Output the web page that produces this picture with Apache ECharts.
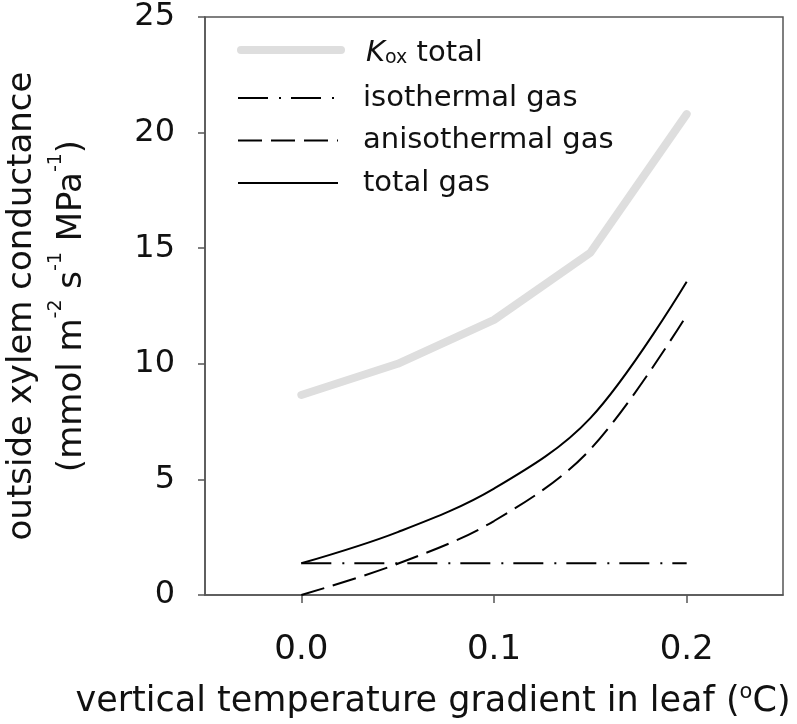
<!DOCTYPE html>
<html>
<head>
<meta charset="utf-8">
<script src="https://cdn.jsdelivr.net/npm/echarts@6/dist/echarts.min.js"></script>
<style>
html,body{margin:0;padding:0;background:#fff;}
#chart{width:797px;height:724px;}
</style>
</head>
<body>
<div id="chart"></div>
<script>
// x positions (vertical temperature gradient, °C)
const gradients = [0, 0.05, 0.1, 0.15, 0.2];
// series values (mmol m-2 s-1 MPa-1)
const koxTotal = [8.65, 10.0, 11.9, 14.8, 20.8];
const isothermalGas = [1.37, 1.37, 1.37, 1.37, 1.37];
const anisothermalGas = [0, 1.35, 3.2, 6.3, 12.1];
const totalGas = [1.37, 2.72, 4.6, 7.65, 13.55];
// tick labels
const xTicks = [0, 0.1, 0.2];
const yTicks = [0, 5, 10, 15, 20, 25];

const seriesNames = ['Kox total', 'isothermal gas', 'anisothermal gas', 'total gas'];

function pairs(ys) { return gradients.map((x, i) => [x, ys[i]]); }

const FONT = 'DejaVu Sans';
const AX = '#555';

const chart = echarts.init(document.getElementById('chart'), null, {renderer: 'canvas'});
chart.setOption({
  animation: false,
  backgroundColor: '#fff',
  textStyle: {fontFamily: FONT, color: '#111'},
  grid: {left: 205, right: 14, top: 17, bottom: 129, show: true, borderColor: AX, borderWidth: 1.5, outerBoundsMode: 'none'},
  legend: [
    {
      data: [seriesNames[0]], orient: 'vertical', left: 237, top: 32, padding: 0,
      itemWidth: 100, itemHeight: 30, selectedMode: false,
      lineStyle: {width: 'inherit'},
      itemStyle: {color: 'rgba(0,0,0,0)', borderWidth: 0},
      formatter: () => '{k|K}{sub|ox} total',
      textStyle: {fontFamily: FONT, fontSize: 29, color: '#111', lineHeight: 30, padding: [6, 0, 0, 20],
        rich: {
          k: {fontFamily: FONT, fontSize: 29, fontStyle: 'italic', lineHeight: 30, color: '#111'},
          sub: {fontFamily: FONT, fontSize: 19, lineHeight: 10, verticalAlign: 'bottom', color: '#111'}
        }}
    },
    {
      data: seriesNames.slice(1), orient: 'vertical', left: 237, top: 80, padding: 0,
      itemWidth: 100, itemHeight: 30, itemGap: 6.5, selectedMode: false,
      lineStyle: {width: 'inherit'},
      itemStyle: {color: 'rgba(0,0,0,0)', borderWidth: 0},
      textStyle: {fontFamily: FONT, fontSize: 29, color: '#111', lineHeight: 30, padding: [6, 0, 0, 20]}
    }
  ],
  xAxis: {
    type: 'value', min: -0.05, max: 0.25,
    name: 'vertical temperature gradient in leaf ({sup|o}C)',
    nameLocation: 'middle', nameGap: 87,
    nameTextStyle: {fontFamily: FONT, fontSize: 35, color: '#111', lineHeight: 40, padding: [0, 122, 0, 0],
      rich: {sup: {fontFamily: FONT, fontSize: 21, lineHeight: 20, verticalAlign: 'top', color: '#111'}}},
    axisLine: {show: true, onZero: false, lineStyle: {color: AX, width: 1.5}},
    axisTick: {show: true, length: 8, lineStyle: {color: AX, width: 1.5}, customValues: xTicks},
    axisLabel: {fontFamily: FONT, fontSize: 34, color: '#111', margin: 38, lineHeight: 34,
      customValues: xTicks, formatter: v => Number(v).toFixed(1)},
    splitLine: {show: false}
  },
  yAxis: {
    type: 'value', min: yTicks[0], max: yTicks[yTicks.length - 1], interval: 5,
    name: 'outside xylem conductance\n(mmol m{sup|-2} s{sup|-1} MPa{sup|-1})',
    nameLocation: 'middle', nameRotate: 90, nameGap: 108,
    nameTextStyle: {fontFamily: FONT, fontSize: 34, color: '#111', lineHeight: 50,
      rich: {sup: {fontFamily: FONT, fontSize: 19, lineHeight: 20, verticalAlign: 'top', color: '#111'}}},
    axisLine: {show: true, onZero: false, lineStyle: {color: AX, width: 1.5}},
    axisTick: {show: true, length: 7, lineStyle: {color: AX, width: 1.5}},
    axisLabel: {fontFamily: FONT, fontSize: 32, color: '#111', margin: 30},
    splitLine: {show: false}
  },
  series: [
    {name: seriesNames[0], type: 'line', data: pairs(koxTotal), symbol: 'none', z: 1,
      lineStyle: {color: '#dedede', width: 8, cap: 'round', join: 'round'}, itemStyle: {color: '#dedede'}},
    {name: seriesNames[1], type: 'line', data: pairs(isothermalGas), symbol: 'none', z: 2,
      lineStyle: {color: '#000', width: 2, type: [30, 11, 2, 10]}, itemStyle: {color: '#000'}},
    {name: seriesNames[2], type: 'line', data: pairs(anisothermalGas), symbol: 'none', z: 2,
      smooth: 0.35,
      lineStyle: {color: '#000', width: 2, type: [24, 9]}, itemStyle: {color: '#000'}},
    {name: seriesNames[3], type: 'line', data: pairs(totalGas), symbol: 'none', z: 2,
      smooth: 0.35,
      lineStyle: {color: '#000', width: 2}, itemStyle: {color: '#000'}}
  ]
});
</script>
</body>
</html>
